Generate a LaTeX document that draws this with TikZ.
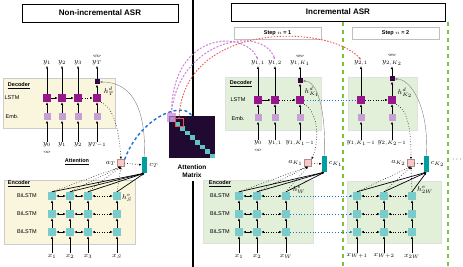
\documentclass[tikz,border=0pt]{standalone}
\usepackage{fontspec}
\setmainfont{Liberation Sans}
\usepackage{tikz}
\usetikzlibrary{arrows.meta,positioning,calc}
\definecolor{EncTeal}{RGB}{122,204,204}
\definecolor{CtxTeal}{RGB}{0,158,160}
\definecolor{LstmPurple}{RGB}{150,24,140}
\definecolor{EmbPurple}{RGB}{198,160,212}
\definecolor{OutPurple}{RGB}{56,8,66}
\definecolor{AttPink}{RGB}{248,200,200}
\definecolor{PanelYellow}{RGB}{250,246,222}
\definecolor{PanelGreen}{RGB}{226,239,217}
\definecolor{MatDark}{RGB}{32,10,50}
\definecolor{FlowBlue}{RGB}{30,112,205}
\definecolor{FlowRed}{RGB}{240,80,80}
\definecolor{FlowLilac}{RGB}{204,128,214}
\definecolor{StepGreen}{RGB}{122,194,64}

\begin{document}
\begin{tikzpicture}[x=1pt,y=-1pt,font=\fontsize{5.5}{6.5}\selectfont,
    >={Latex[length=2.6pt,width=2.2pt]},
    enc/.style={fill=EncTeal,minimum size=8pt,inner sep=0pt},
    lstm/.style={fill=LstmPurple,minimum size=8pt,inner sep=0pt},
    emb/.style={fill=EmbPurple,minimum size=7pt,inner sep=0pt},
    outbox/.style={fill=OutPurple,minimum size=5pt,inner sep=0pt},
    abox/.style={fill=AttPink,draw=AttPink!70!black,line width=0.2pt,minimum size=7pt,inner sep=0pt},
    cbox/.style={fill=CtxTeal,minimum width=5pt,minimum height=16pt,inner sep=0pt},
    var/.style={font=\fontsize{7.5}{8.5}\selectfont,inner sep=0.5pt},
    tag/.style={font=\fontsize{4}{4.5}\selectfont,inner sep=0pt},
    head/.style={font=\fontsize{5.5}{6.5}\selectfont\bfseries,inner sep=0pt},
    title/.style={draw,line width=0.8pt,font=\fontsize{8}{9}\selectfont\bfseries,minimum height=18pt},
    stepbox/.style={draw=gray!50,line width=0.5pt,font=\fontsize{5.5}{6.5}\selectfont\bfseries,minimum width=87pt,minimum height=11pt},
    ypanel/.style={fill=PanelYellow,draw=black!20,line width=0.3pt},
    gpanel/.style={fill=PanelGreen,draw=black!12,line width=0.3pt},
    arr/.style={->,line width=0.4pt},
    biarr/.style={<->,line width=0.4pt},
    attw/.style={->,dotted,line width=0.6pt},
    ctxw/.style={->,line width=0.7pt},
    fback/.style={->,gray,line width=0.4pt},
    blueline/.style={->,FlowBlue,dotted,line width=0.8pt}]
  \useasboundingbox (0,0) rectangle (463,267);

  % titles and separators
  \node[title,minimum width=156pt] (ttlL) at (100,13) {Non-incremental ASR};
  \node[title,minimum width=214pt] (ttlR) at (338,12) {Incremental ASR};
  \node[stepbox] (step1) at (277.5,33.5) {Step $n$ = 1};
  \node[stepbox] (step2) at (395.5,33.5) {Step $n$ = 2};
  \draw[line width=1.4pt] (193,0) -- (193,116);
  \draw[line width=1.4pt] (193,181) -- (193,267);
  \draw[StepGreen,line width=1.8pt,dash pattern=on 4pt off 4pt] (343,22) -- (343,267);
  \draw[StepGreen,line width=1.8pt,dash pattern=on 4pt off 4pt] (448,22) -- (448,267);

  % panels
  \draw[ypanel] (3,78) rectangle (115,128);
  \draw[ypanel] (4,180) rectangle (135,244);
  \draw[gpanel] (225,77) rectangle (321,130);
  \draw[gpanel] (348,77) rectangle (417,130);
  \draw[gpanel] (203,180) rectangle (313,243);
  \draw[gpanel] (347,181) rectangle (441,243);

  \node[head] (decL) at (19,86) {\underline{Decoder}};
  \node[head] (encL) at (19,184) {\underline{Encoder}};
  \node[head] (attL) at (77,162) {\underline{Attention}};
  \node[head] (decR) at (241,84) {\underline{Decoder}};
  \node[head] (encR) at (220,184) {\underline{Encoder}};
  \node (lstmL) at (12,98) {LSTM};
  \node (embL) at (12,117) {Emb.};
  \node (lstmR) at (238,100) {LSTM};
  \node (embR) at (238,119) {Emb.};
  \foreach \r/\y in {1/196,2/214,3/232} {
    \node (bilL\r) at (27,\y) {BiLSTM};
    \node (bilR\r) at (220,\y) {BiLSTM};
  }

  % ---- non-incremental: encoder
  \foreach \c/\x/\t in {1/52/1,2/70/2,3/88/3,4/117/S} {
    \node[var] (lx\c) at (\x,256) {$x_{\t}$};
    \foreach \r/\y in {1/196,2/214,3/232}
      \node[enc] (le\r\c) at (\x,\y) {};
    \draw[arr] (lx\c) -- (le3\c);
    \draw[arr] (le3\c) -- (le2\c);
    \draw[arr] (le2\c) -- (le1\c);
  }
  \foreach \r in {1,2,3} {
    \draw[biarr] (le\r1) -- (le\r2);
    \draw[biarr] (le\r2) -- (le\r3);
    \draw[biarr,dotted] (le\r3) -- (le\r4);
  }
  \node[var] (lhe) at (127,198) {$h^{e}_{S}$};

  % ---- non-incremental: decoder
  \foreach \c/\x/\yo/\yi in {1/47/1/0,2/62/2/1,3/78/3/2,4/97/T/{T-1}} {
    \node[var] (lin\c) at (\x,145) {$y_{\yi}$};
    \node[emb] (lemb\c) at (\x,117) {};
    \node[lstm] (ll\c) at (\x,98) {};
    \node[var] (ly\c) at (\x,63) {$y_{\yo}$};
    \draw[arr] (lin\c) -- (lemb\c);
    \draw[arr] (lemb\c) -- (ll\c);
  }
  \node[tag] (ls) at (47,152.5) {<s>};
  \node[tag] (les) at (97,56) {</s>};
  \node[outbox] (lo) at (97,82) {};
  \foreach \c in {1,2,3} \draw[arr] (ll\c) -- (ly\c);
  \draw[arr] (ll4) -- (lo);
  \draw[arr] (lo) -- (ly4);
  \draw[->,line width=0.6pt] (ll1) -- (ll2);
  \draw[->,line width=0.6pt] (ll2) -- (ll3);
  \draw[->,dotted,line width=0.6pt] (ll3) -- (ll4);
  \node[var] (lhd) at (109,91) {$h^{d}_{T}$};

  % ---- non-incremental: attention
  \node[abox] (la) at (121,163) {};
  \node[cbox] (lc) at (144.5,165) {};
  \node[var,left=1pt of la] (lal) {$a_{T}$};
  \node[var,right=1.5pt of lc] (lcl) {$c_{T}$};
  \foreach \c in {1,...,4} {
    \draw[attw] (le1\c.north) -- (la.south);
    \draw[ctxw] (le1\c.north) -- (lc.south);
  }
  \draw[attw] (la) -- (lc);
  \draw[attw] (ll4.south east) .. controls (114,108) and (119,130) .. (la.north);
  \draw[fback] (lc.north) .. controls (146,105) and (130,82) .. (lo.east);

  % ---- attention matrix
  \node[fill=MatDark,minimum width=46pt,minimum height=42pt,inner sep=0pt] (mat) at (192,137) {};
  \foreach \k in {0,...,8}
    \fill[EncTeal!80!CtxTeal] (170+5*\k,117+4.6*\k) rectangle ++(5,4.6);
  \node[fill=FlowLilac,fill opacity=0.7,minimum size=9pt,inner sep=0pt] (hlP) at (171.5,118) {};
  \node[draw=FlowRed,line width=1pt,minimum size=8pt,inner sep=0pt] (hlR) at (179,123) {};
  \node[head,align=center,font=\fontsize{6.5}{8}\selectfont\bfseries] (matl) at (192,171) {Attention\\Matrix};
  \draw[->,FlowBlue,line width=1.4pt,dash pattern=on 3pt off 2.5pt] (la.north east) .. controls (140,118) and (180,102) .. (mat.north);

  % ---- incremental step 1: encoder
  \foreach \c/\x/\t in {1/239/1,2/257/2,3/286/W} {
    \node[var] (rx\c) at (\x,256) {$x_{\t}$};
    \foreach \r/\y in {1/196,2/214,3/232}
      \node[enc] (re\r\c) at (\x,\y) {};
    \draw[arr] (rx\c) -- (re3\c);
    \draw[arr] (re3\c) -- (re2\c);
    \draw[arr] (re2\c) -- (re1\c);
  }
  \foreach \r in {1,2,3} {
    \draw[biarr] (re\r1) -- (re\r2);
    \draw[biarr,dotted] (re\r2) -- (re\r3);
  }
  \node[var] (rhe) at (299,190) {$h^{e}_{W}$};

  % ---- incremental step 1: decoder
  \foreach \c/\x/\yo/\yi in {1/258/{1,1}/0,2/275/{1,2}/{1,1},3/300/{1,K_1}/{1,K_1-1}} {
    \node[var] (rin\c) at (\x,143) {$y_{\yi}$};
    \node[emb] (remb\c) at (\x,118) {};
    \node[lstm] (rl\c) at (\x,100) {};
    \node[var] (ry\c) at (\x,63) {$y_{\yo}$};
    \draw[arr] (rin\c) -- (remb\c);
    \draw[arr] (remb\c) -- (rl\c);
  }
  \node[tag] (rs) at (258,150.5) {<s>};
  \node[tag] (rm) at (300,56) {<m>};
  \node[outbox] (ro) at (300,81) {};
  \foreach \c in {1,2} \draw[arr] (rl\c) -- (ry\c);
  \draw[arr] (rl3) -- (ro);
  \draw[arr] (ro) -- (ry3);
  \draw[->,line width=0.6pt] (rl1) -- (rl2);
  \draw[->,dotted,line width=0.6pt] (rl2) -- (rl3);
  \node[var] (rhd) at (312,92) {$h^{d}_{K_1}$};

  % ---- incremental step 1: attention
  \node[abox] (ra) at (308,163) {};
  \node[cbox] (rc) at (324.5,164) {};
  \node[var,left=1pt of ra] (ral) {$a_{K_1}$};
  \node[var,right=1pt of rc] (rcl) {$c_{K_1}$};
  \foreach \c in {1,2,3} {
    \draw[attw] (re1\c.north) -- (ra.south);
    \draw[ctxw] (re1\c.north) -- (rc.south);
  }
  \draw[attw] (ra) -- (rc);
  \draw[attw] (rl3.south east) .. controls (318,112) and (320,140) .. (ra.north east);
  \draw[fback] (rc.north) .. controls (326,105) and (316,81) .. (ro.east);

  % ---- incremental step 2: encoder
  \foreach \c/\x/\t in {1/357/{W+1},2/384/{W+2},3/412/{2W}} {
    \node[var] (sx\c) at (\x,256) {$x_{\t}$};
    \foreach \r/\y in {1/196,2/214,3/232}
      \node[enc] (se\r\c) at (\x,\y) {};
    \draw[arr] (sx\c) -- (se3\c);
    \draw[arr] (se3\c) -- (se2\c);
    \draw[arr] (se2\c) -- (se1\c);
  }
  \foreach \r in {1,2,3} {
    \draw[biarr,dotted] (se\r1) -- (se\r2);
    \draw[biarr,dotted] (se\r2) -- (se\r3);
    \draw[blueline] (re\r3) -- (se\r1);
  }
  \node[var] (she) at (425,190) {$h^{e}_{2W}$};

  % ---- incremental step 2: decoder
  \foreach \c/\x/\yo/\yi in {1/361/{2,1}/{1,K_1-1},2/392/{2,K_2}/{2,K_2-1}} {
    \node[var] (sin\c) at (\x,143) {$y_{\scriptscriptstyle\yi}$};
    \node[emb] (semb\c) at (\x,118) {};
    \node[lstm] (sl\c) at (\x,100) {};
    \node[var] (sy\c) at (\x,63) {$y_{\yo}$};
    \draw[arr] (sin\c) -- (semb\c);
    \draw[arr] (semb\c) -- (sl\c);
  }
  \node[tag] (sm) at (392,55) {<m>};
  \node[outbox] (so) at (392,79) {};
  \draw[arr] (sl1) -- (sy1);
  \draw[arr] (sl2) -- (so);
  \draw[arr] (so) -- (sy2);
  \draw[->,dotted,line width=0.6pt] (sl1) -- (sl2);
  \draw[FlowBlue,dotted,line width=0.8pt] (rl3) -- (sl1);
  \node[var] (shd) at (405,93) {$h^{d}_{K_2}$};

  % ---- incremental step 2: attention
  \node[abox] (sa) at (411,163) {};
  \node[cbox] (sc) at (426.5,164) {};
  \node[var,left=1pt of sa] (sal) {$a_{K_2}$};
  \node[var,right=1pt of sc] (scl) {$c_{K_2}$};
  \foreach \c in {1,2,3} {
    \draw[attw] (se1\c.north) -- (sa.south);
    \draw[ctxw] (se1\c.north) -- (sc.south);
  }
  \draw[attw] (sa) -- (sc);
  \draw[attw] (sl2.south east) .. controls (408,110) and (411,130) .. (sa.north);
  \draw[fback] (sc.north) .. controls (429,105) and (410,79) .. (so.east);
  \node[font=\fontsize{8}{9}\selectfont\bfseries] (dots) at (457,160) {$\cdots$};

  % ---- transfer of attention
  \draw[->,FlowLilac,line width=1pt,dash pattern=on 2pt off 1.5pt] (hlP.north) .. controls (172,30) and (245,30) .. (ry1.north);
  \draw[->,FlowLilac,line width=1pt,dash pattern=on 2pt off 1.5pt] (hlP.north) .. controls (178,40) and (262,24) .. (ry2.north);
  \draw[->,FlowRed,line width=0.9pt,dash pattern=on 1.5pt off 1.5pt] (hlR.north) .. controls (183,20) and (330,24) .. (sy1.north);
\end{tikzpicture}
\end{document}
